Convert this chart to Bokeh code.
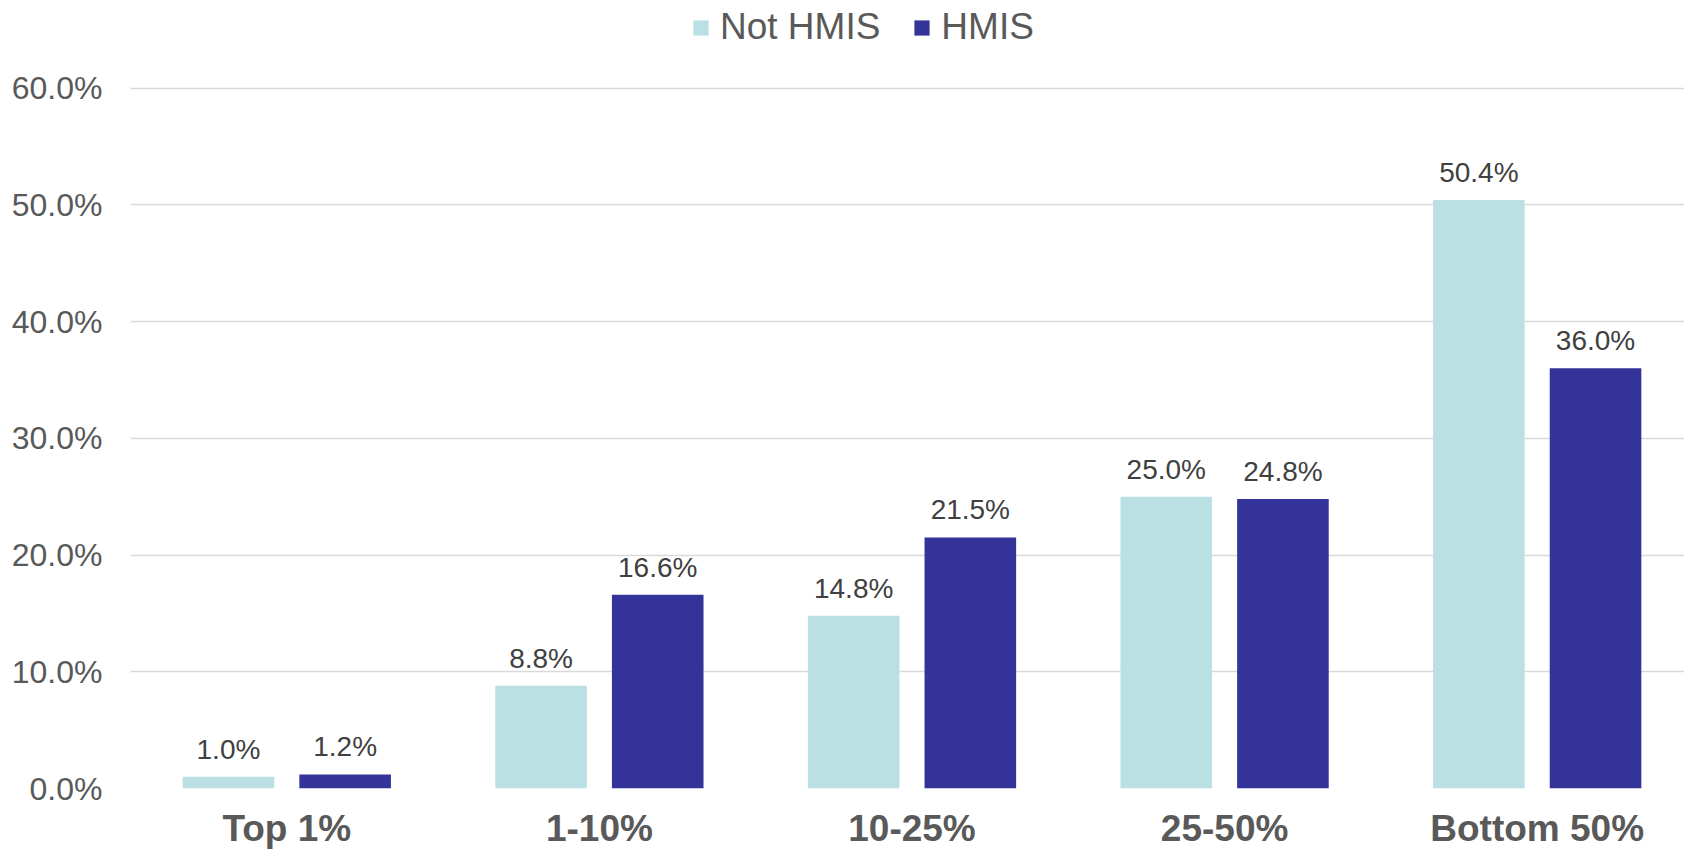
from bokeh.plotting import figure
from bokeh.models import (ColumnDataSource, Range1d, FixedTicker, PrintfTickFormatter,
                          Legend, LegendItem, LabelSet)
from bokeh.core.properties import value
from bokeh.embed import file_html
from bokeh.resources import INLINE

categories = ["Top 1%", "1-10%", "10-25%", "25-50%", "Bottom 50%"]
not_hmis = [1.0, 8.8, 14.8, 25.0, 50.4]
hmis = [1.2, 16.6, 21.5, 24.8, 36.0]
y_ticks = [0, 10, 20, 30, 40, 50, 60]
series_names = ["Not HMIS", "HMIS"]
colors = ["#BBE0E3", "#333399"]

FONT = "Liberation Sans"
W, H = 1684, 851
LEFT, BOTTOM = 130, 63
cat_px = 312.6
frame_w = W - LEFT
x_end = -0.5 + frame_w / cat_px
frame_h = H - BOTTOM
y_end = 60 * frame_h / 700.5

p = figure(width=W, height=H, output_backend="svg", toolbar_location=None,
           x_range=Range1d(-0.5, x_end), y_range=Range1d(0, y_end),
           min_border_left=LEFT, min_border_right=0, min_border_top=0,
           min_border_bottom=BOTTOM, outline_line_color=None)
p.background_fill_color = "white"
p.border_fill_color = "white"

idx = list(range(len(categories)))
off = 0.1866
bw = 0.293
src1 = ColumnDataSource(dict(x=[i - off for i in idx], top=not_hmis,
                             lab=["%.1f%%" % v for v in not_hmis]))
src2 = ColumnDataSource(dict(x=[i + off for i in idx], top=hmis,
                             lab=["%.1f%%" % v for v in hmis]))
r1 = p.vbar(x="x", top="top", width=bw, source=src1, fill_color=colors[0], line_color=None)
r2 = p.vbar(x="x", top="top", width=bw, source=src2, fill_color=colors[1], line_color=None)

for s in (src1, src2):
    p.add_layout(LabelSet(x="x", y="top", text="lab", source=s, text_align="center",
                          text_baseline="alphabetic", y_offset=18,
                          text_font=value(FONT), text_font_size="28px",
                          text_color="#404040"))

# axes
p.xaxis.ticker = FixedTicker(ticks=idx)
p.xaxis.major_label_overrides = {i: c for i, c in zip(idx, categories)}
p.xaxis.major_label_text_font = FONT
p.xaxis.major_label_text_font_size = "37px"
p.xaxis.major_label_text_font_style = "bold"
p.xaxis.major_label_text_color = "#595959"
p.xaxis.major_label_standoff = 19
p.xaxis.major_tick_out = 0
p.xaxis.major_tick_in = 0
p.xaxis.axis_line_color = None
p.xaxis.major_tick_line_color = None
p.xaxis.minor_tick_line_color = None

p.yaxis.ticker = FixedTicker(ticks=y_ticks)
p.yaxis.formatter = PrintfTickFormatter(format="%.1f%%")
p.yaxis.major_label_text_font = FONT
p.yaxis.major_label_text_font_size = "32px"
p.yaxis.major_label_text_color = "#595959"
p.yaxis.major_label_standoff = 28
p.yaxis.major_tick_out = 0
p.yaxis.major_tick_in = 0
p.yaxis.axis_line_color = None
p.yaxis.major_tick_line_color = None
p.yaxis.minor_tick_line_color = None

p.xgrid.grid_line_color = None
p.ygrid.ticker = FixedTicker(ticks=y_ticks)
p.ygrid.grid_line_color = "#D9D9D9"
p.ygrid.grid_line_width = 1.5
p.ygrid.level = "underlay"

legend = Legend(items=[LegendItem(label=series_names[0], renderers=[r1]),
                       LegendItem(label=series_names[1], renderers=[r2])],
                orientation="horizontal", location=(561, frame_h - 48),
                glyph_width=19, glyph_height=19, label_standoff=10, spacing=32,
                padding=0, margin=0, border_line_color=None,
                background_fill_alpha=0,
                label_text_font=FONT, label_text_font_size="37px",
                label_text_color="#595959")
p.add_layout(legend, "center")

open("out.html", "w").write(file_html(p, INLINE))
